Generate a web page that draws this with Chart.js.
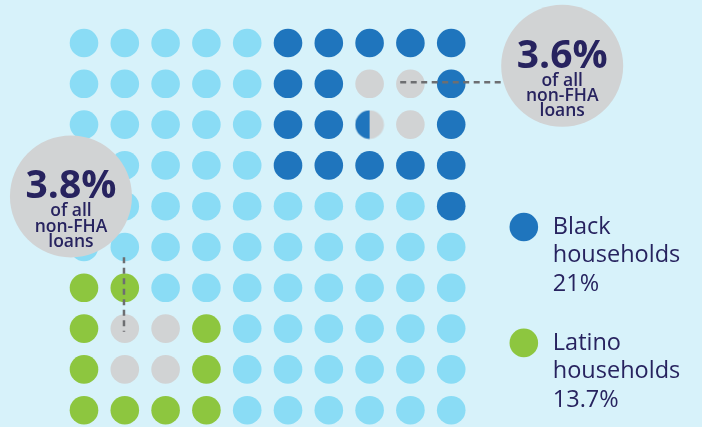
<!DOCTYPE html>
<html>
<head>
<meta charset="utf-8">
<script src="https://cdn.jsdelivr.net/npm/chart.js@4.4.1/dist/chart.umd.min.js"></script>
<style>
  html, body { margin: 0; padding: 0; background: #d7f2fa; }
  #wrap { width: 702px; height: 427px; position: relative; }
</style>
</head>
<body>
<div id="wrap"><canvas id="waffle"></canvas></div>
<script>
// 10x10 grid, one letter per household share (1 cell = 1%)
// B = Black, N = Latino, G = non-FHA loans share, H = half Black / half non-FHA, L = other
const gridRows = [
    'LLLLLBBBBB',
    'LLLLLBBGGB',
    'LLLLLBBHGB',
    'LLLLLBBBBB',
    'LLLLLLLLLB',
    'LLLLLLLLLL',
    'NNLLLLLLLL',
    'NGGNLLLLLL',
    'NGGNLLLLLL',
    'NNNNLLLLLL'
];

// callout bubbles (grid units)
const calloutValues = ['3.6%', '3.8%'];
const calloutSub = ['of all', 'non-FHA', 'loans'];
const calloutX = [11.72, -0.32];
const calloutY = [0.56, 3.76];

// dashed leaders from the bubbles to the grid
const leaderRight = [{x: 7.75, y: 0.96}, {x: 10.25, y: 0.96}];
const leaderLeft = [{x: 0.98, y: 5.25}, {x: 0.98, y: 7.08}];

// legend
const legendNames = ['Black', 'Latino'];
const legendShares = ['21%', '13.7%'];
const legendX = [10.78, 10.78];
const legendY = [4.51, 7.35];

const colors = {
    L: '#8adcf5',
    B: '#1f75bd',
    N: '#8dc63f',
    G: '#d1d3d4',
    text: '#27235f',
    dash: '#6d6e71'
};
const DOT = 14.3;

// collect cells of one kind from the grid
const cellsOf = (code) => {
    let pts = [];
    gridRows.forEach((row, r) => {
        row.split('').forEach((c, col) => {
            if (c === code) pts.push({x: col, y: r});
        });
    });
    return pts;
};

// half black / half grey dot used as point style
const halfDot = (() => {
    const c = document.createElement('canvas');
    c.width = 30; c.height = 30;
    const g = c.getContext('2d');
    g.fillStyle = colors.G;
    g.beginPath(); g.arc(15, 15, DOT, 0, Math.PI * 2); g.fill();
    g.fillStyle = colors.B;
    g.beginPath(); g.arc(15, 15, DOT, Math.PI / 2, Math.PI * 3 / 2); g.fill();
    return c;
})();

const dotSet = (data, color, style) => ({
    type: 'scatter',
    data: data,
    backgroundColor: color,
    pointRadius: DOT,
    pointBorderWidth: 0,
    pointStyle: style || 'circle',
    clip: false,
    order: 3
});

const leaderSet = (data) => ({
    type: 'line',
    data: data,
    borderColor: colors.dash,
    borderWidth: 2.5,
    borderDash: [6, 4.5],
    pointRadius: 0,
    clip: false,
    order: 2
});

// texts for callouts and legend
const textPlugin = {
    id: 'texts',
    afterDatasetsDraw(chart) {
        const ctx = chart.ctx;
        const xs = chart.scales.x, ys = chart.scales.y;
        ctx.save();
        ctx.fillStyle = colors.text;
        ctx.textBaseline = 'alphabetic';
        ctx.textAlign = 'center';
        calloutValues.forEach((v, i) => {
            const cx = xs.getPixelForValue(calloutX[i]);
            const cy = ys.getPixelForValue(calloutY[i]);
            ctx.font = 'bold 39px "Open Sans"';
            ctx.fillText(v, cx, cy + 2);
            ctx.font = '600 17.5px "Open Sans"';
            calloutSub.forEach((s, j) => ctx.fillText(s, cx, cy + 20 + j * 15.3));
        });
        ctx.textAlign = 'left';
        ctx.font = '500 23.5px "Open Sans"';
        legendNames.forEach((n, i) => {
            const lx = xs.getPixelForValue(legendX[i]) + 29;
            const ly = ys.getPixelForValue(legendY[i]);
            ctx.fillText(n, lx, ly + 7);
            ctx.fillText('households', lx, ly + 35);
            ctx.fillText(legendShares[i], lx, ly + 64);
        });
        ctx.restore();
    }
};

new Chart(document.getElementById('waffle'), {
    type: 'scatter',
    data: {
        datasets: [
            {
                type: 'scatter',
                data: calloutX.map((x, i) => ({x: x, y: calloutY[i]})),
                backgroundColor: colors.G,
                pointRadius: 61,
                pointBorderWidth: 0,
                clip: false,
                order: 1
            },
            leaderSet(leaderRight),
            leaderSet(leaderLeft),
            dotSet(cellsOf('L'), colors.L),
            dotSet(cellsOf('B'), colors.B),
            dotSet(cellsOf('N'), colors.N),
            dotSet(cellsOf('G'), colors.G),
            dotSet(cellsOf('H'), colors.B, halfDot),
            dotSet(legendX.map((x, i) => ({x: x, y: legendY[i]})), [colors.B, colors.N])
        ]
    },
    options: {
        responsive: true,
        maintainAspectRatio: false,
        animation: false,
        layout: { padding: 0, autoPadding: false },
        scales: {
            x: { type: 'linear', display: false, min: -84 / 40.8, max: (702 - 84) / 40.8 },
            y: { type: 'linear', display: false, reverse: true, min: -43 / 40.8, max: (427 - 43) / 40.8 }
        },
        plugins: {
            legend: { display: false },
            tooltip: { enabled: false }
        },
        events: []
    },
    plugins: [textPlugin]
});
</script>
</body>
</html>
